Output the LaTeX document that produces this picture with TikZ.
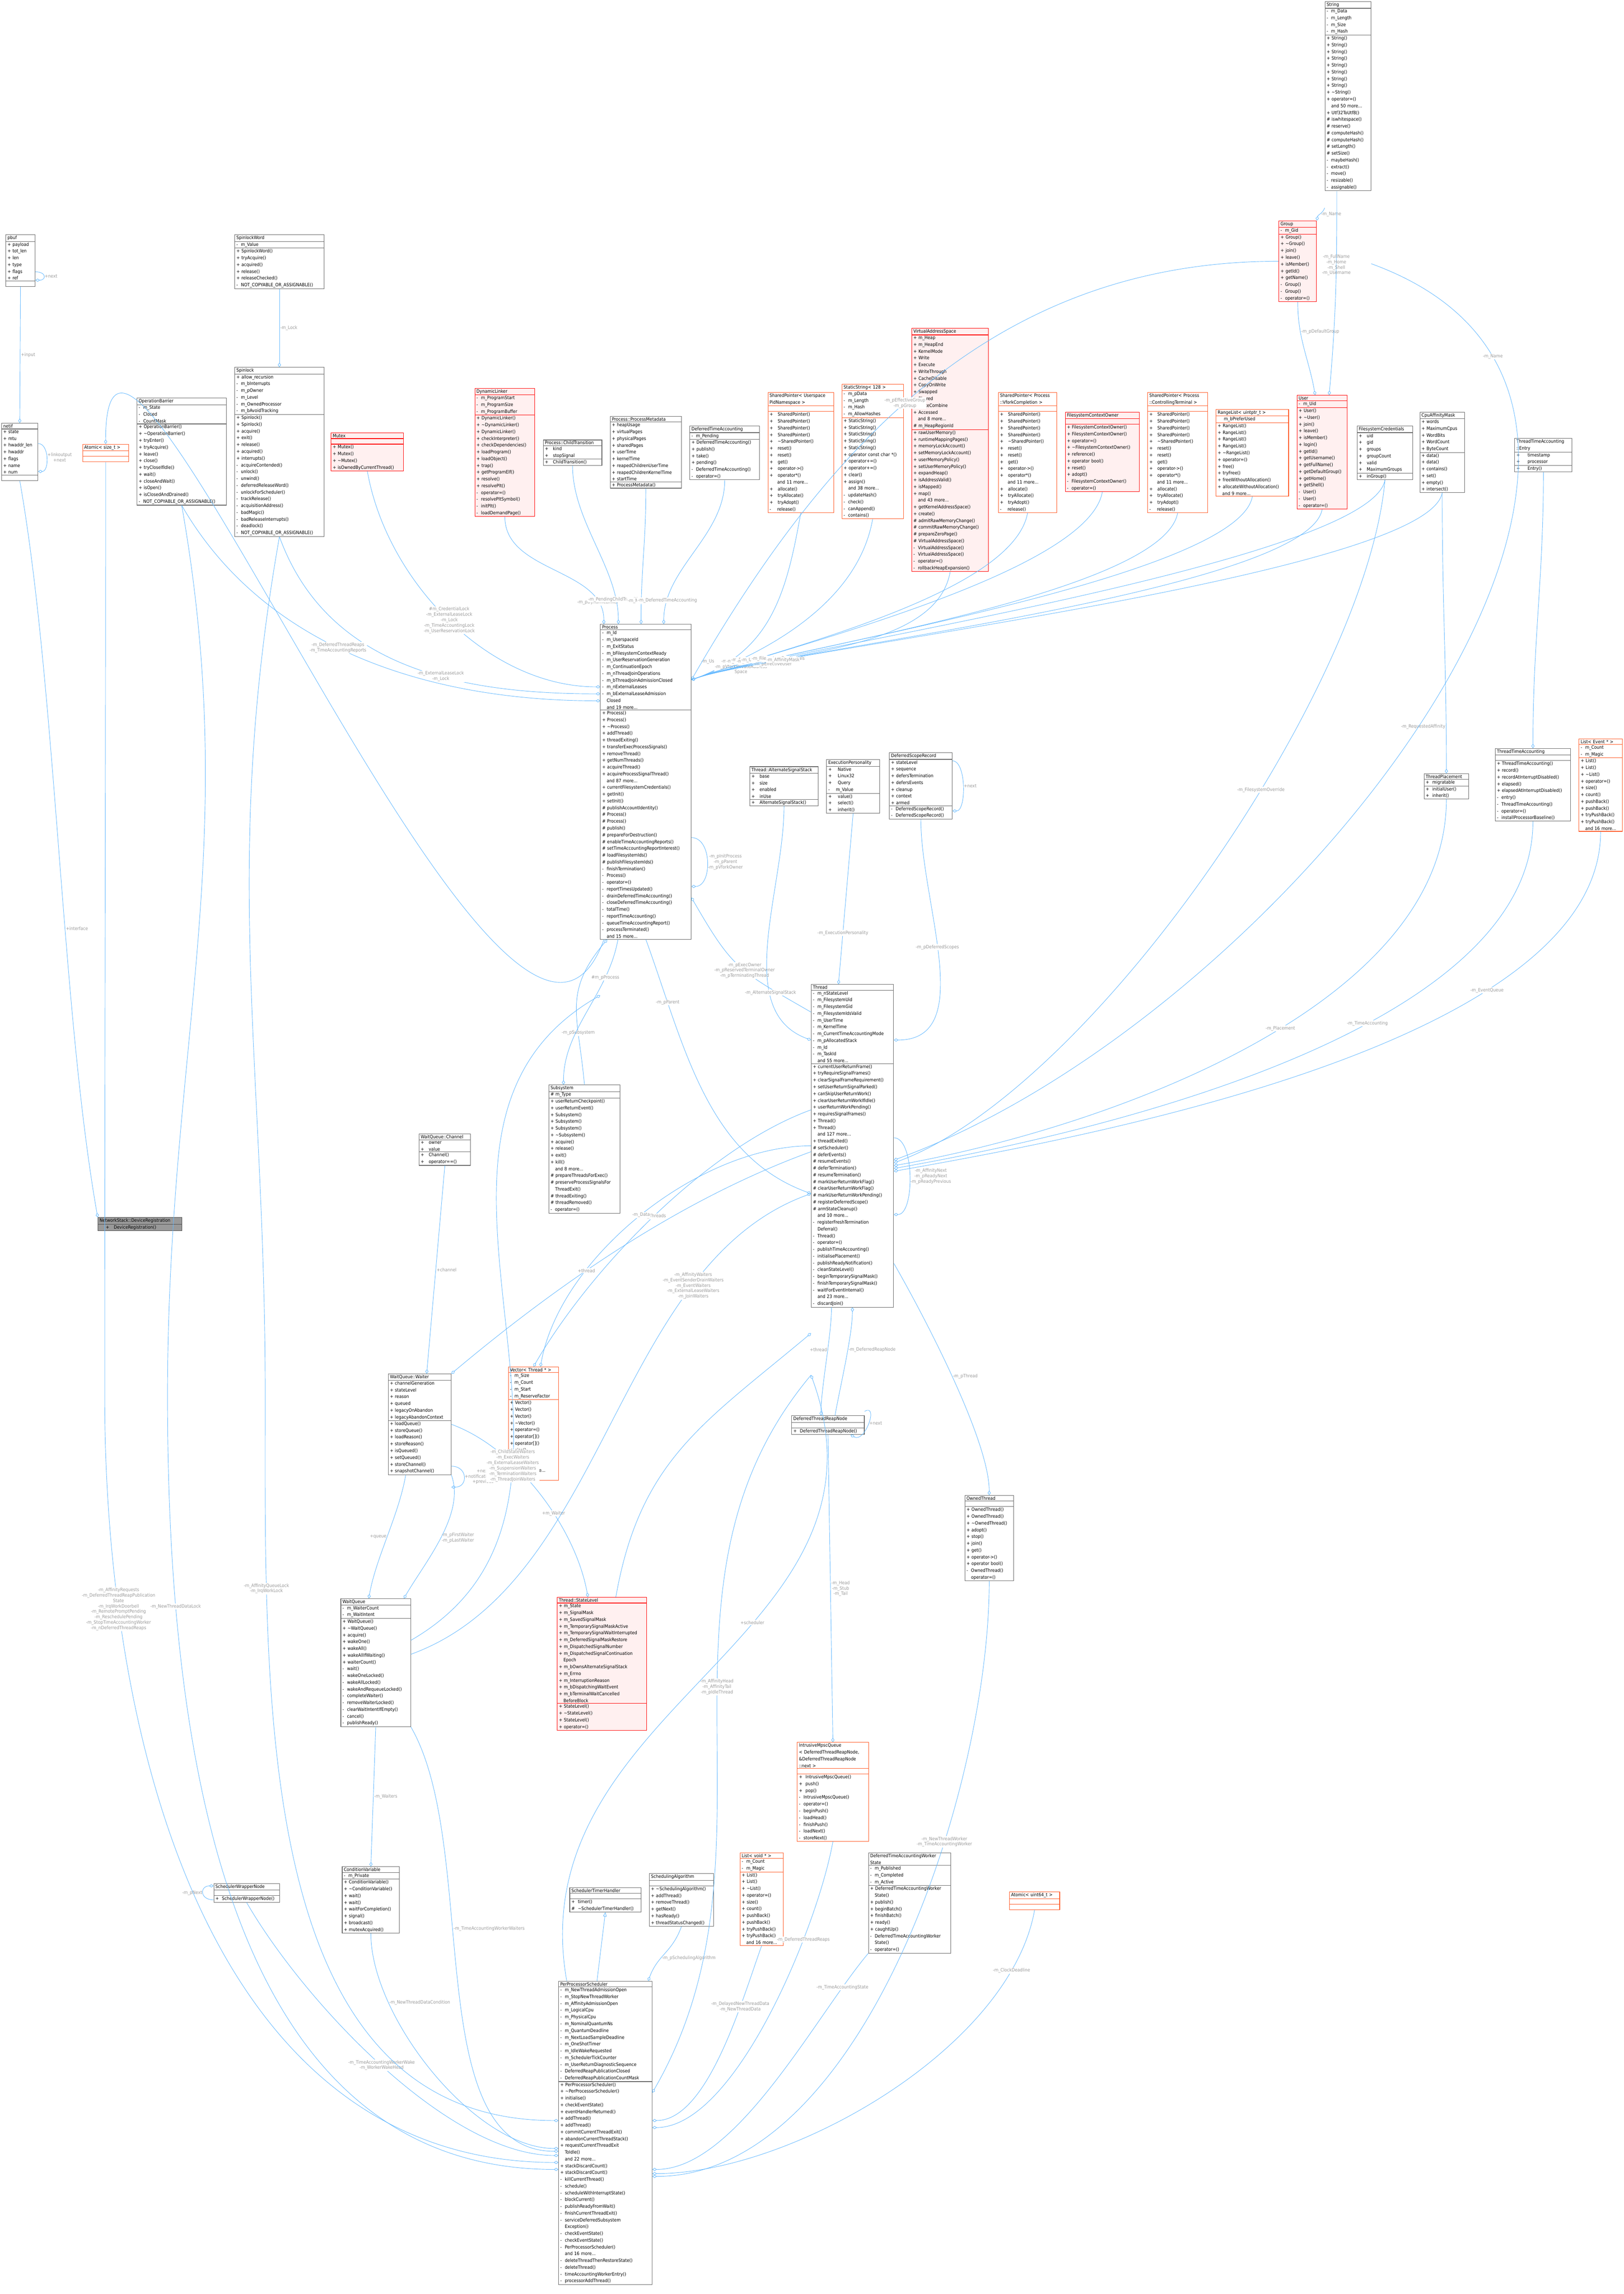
\documentclass[tikz,border=0pt]{standalone}
\usepackage{fontspec}
\setmainfont{DejaVu Sans}
\newfontfamily\cond{DejaVu Sans Condensed}
\usetikzlibrary{shapes.multipart,arrows.meta}
\definecolor{edge}{HTML}{63B8FF}
\definecolor{lblc}{HTML}{9A9A9A}
\definecolor{tmpl}{HTML}{FF5722}
\tikzset{
 cls/.style={rectangle split,rectangle split parts=3,rectangle split part align={center,left,left},
   draw=black!60,fill=white,line width=0.35pt,inner xsep=1.2pt,inner ysep=0.6pt,
   font=\cond\fontsize{3.3}{4.85}\selectfont},
 redc/.style={draw=red,fill=red!6},
 orc/.style={draw=tmpl},
 agg/.style={draw=edge,line width=0.3pt,-{Diamond[open,length=3.2pt,width=2.2pt]}},
 ln/.style={draw=edge,line width=0.3pt},
 inh/.style={draw=edge,line width=0.3pt,-{Triangle[open,length=3pt,width=2.6pt]}},
 lbl/.style={font=\cond\fontsize{3.3}{3.9}\selectfont,text=lblc,align=center,inner sep=0.5pt}
}
\newcommand\ubox[8]{\node[cls,#2,text width=#5pt-2.4pt,anchor=north west] (#1) at (#3,#4) {#6\nodepart{two}#7\nodepart{three}#8};}
\newcommand\E{\phantom{X}}
\begin{document}
\begin{tikzpicture}[x=1pt,y=-1pt]
\useasboundingbox (0,0) rectangle (1163.25,1643.25);
% ---------- top rows
\ubox{pbuf}{}{4}{168}{21}{pbuf}{+ payload\\+ tot\_len\\+ len\\+ type\\+ flags\\+ ref}{\E}
\ubox{netif}{}{1}{303}{26}{netif}{+ state\\+ mtu\\+ hwaddr\_len\\+ hwaddr\\+ flags\\+ name\\+ num}{\E}
\ubox{atsz}{orc}{59}{318}{33}{Atomic< size\_t >}{\E}{\E}
\ubox{opb}{}{98}{285}{64}{OperationBarrier}{-\ \ m\_State\\-\ \ Closed\\-\ \ CountMask}{+ OperationBarrier()\\+ \textasciitilde OperationBarrier()\\+ tryEnter()\\+ tryAcquire()\\+ leave()\\+ close()\\+ tryCloseIfIdle()\\+ wait()\\+ closeAndWait()\\+ isOpen()\\+ isClosedAndDrained()\\- \ NOT\_COPYABLE\_OR\_ASSIGNABLE()}
\ubox{slw}{}{168}{168}{64}{SpinlockWord}{- \ m\_Value}{+ SpinlockWord()\\+ tryAcquire()\\+ acquired()\\+ release()\\+ releaseChecked()\\- \ NOT\_COPYABLE\_OR\_ASSIGNABLE()}
\ubox{sl}{}{168}{263}{64}{Spinlock}{+ allow\_recursion\\- \ m\_bInterrupts\\- \ m\_pOwner\\- \ m\_Level\\- \ m\_OwnedProcessor\\- \ m\_bAvoidTracking}{+ Spinlock()\\+ Spinlock()\\+ acquire()\\+ exit()\\+ release()\\+ acquired()\\+ interrupts()\\- \ acquireContended()\\- \ unlock()\\- \ unwind()\\- \ deferredReleaseWord()\\- \ unlockForScheduler()\\- \ trackRelease()\\- \ acquisitionAddress()\\- \ badMagic()\\- \ badReleaseInterrupts()\\- \ deadlock()\\- \ NOT\_COPYABLE\_OR\_ASSIGNABLE()}
\ubox{mutex}{redc}{237}{310}{52}{Mutex}{\E}{+ Mutex()\\+ Mutex()\\+ \textasciitilde Mutex()\\+ isOwnedByCurrentThread()}
\ubox{dl}{redc}{340}{278}{43}{DynamicLinker}{- \ m\_ProgramStart\\- \ m\_ProgramSize\\- \ m\_ProgramBuffer}{+ DynamicLinker()\\+ \textasciitilde DynamicLinker()\\+ DynamicLinker()\\+ checkInterpreter()\\+ checkDependencies()\\+ loadProgram()\\+ loadObject()\\+ trap()\\+ getProgramElf()\\+ resolve()\\+ resolvePlt()\\- \ operator=()\\- \ resolvePltSymbol()\\- \ initPlt()\\- \ loadDemandPage()}
\ubox{ct}{}{389}{315}{42}{Process::ChildTransition}{+ \ \ kind\\+ \ \ stopSignal}{+ \ \ ChildTransition()}
\ubox{pm}{}{437}{298}{51}{Process::ProcessMetadata}{+ heapUsage\\+ virtualPages\\+ physicalPages\\+ sharedPages\\+ userTime\\+ kernelTime\\+ reapedChildrenUserTime\\+ reapedChildrenKernelTime\\+ startTime}{+ ProcessMetadata()}
\ubox{dta}{}{494}{305}{50}{DeferredTimeAccounting}{- \ m\_Pending}{+ DeferredTimeAccounting()\\+ publish()\\+ take()\\+ pending()\\- \ DeferredTimeAccounting()\\- \ operator=()}
\ubox{spu}{orc}{550}{281}{47}{SharedPointer< Userspace\\PidNamespace >}{\E}{+ \ \ SharedPointer()\\+ \ \ SharedPointer()\\+ \ \ SharedPointer()\\+ \ \ SharedPointer()\\+ \ \ \textasciitilde SharedPointer()\\+ \ \ reset()\\+ \ \ reset()\\+ \ \ get()\\+ \ \ operator->()\\+ \ \ operator*()\\\ \ \ \ \ and 11 more...\\+ \ \ allocate()\\+ \ \ tryAllocate()\\+ \ \ tryAdopt()\\- \ \ \ release()}
\ubox{ss}{orc}{603}{275}{44}{StaticString< 128 >}{- \ m\_pData\\- \ m\_Length\\- \ m\_Hash\\- \ m\_AllowHashes}{+ StaticString()\\+ StaticString()\\+ StaticString()\\+ StaticString()\\+ StaticString()\\+ operator const char *()\\+ operator+=()\\+ operator+=()\\+ clear()\\+ assign()\\\ \ \ and 38 more...\\- \ updateHash()\\- \ check()\\- \ canAppend()\\- \ contains()}
\ubox{vas}{redc}{653}{235}{55}{VirtualAddressSpace}{+ m\_Heap\\+ m\_HeapEnd\\+ KernelMode\\+ Write\\+ Execute\\+ WriteThrough\\+ CacheDisable\\+ CopyOnWrite\\+ Swapped\\+ Shared\\+ WriteCombine\\+ Accessed\\\ \ \ and 8 more...\\\# m\_HeapRegionId}{+ rawUserMemory()\\+ runtimeMappingPages()\\+ memoryLockAccount()\\+ setMemoryLockAccount()\\+ userMemoryPolicy()\\+ setUserMemoryPolicy()\\+ expandHeap()\\+ isAddressValid()\\+ isMapped()\\+ map()\\\ \ \ and 43 more...\\+ getKernelAddressSpace()\\+ create()\\\# admitRawMemoryChange()\\\# commitRawMemoryChange()\\\# prepareZeroPage()\\\# VirtualAddressSpace()\\- \ VirtualAddressSpace()\\- \ VirtualAddressSpace()\\- \ operator=()\\- \ rollbackHeapExpansion()}
\ubox{spv}{orc}{715}{281}{42}{SharedPointer< Process\\::VforkCompletion >}{\E}{+ \ \ SharedPointer()\\+ \ \ SharedPointer()\\+ \ \ SharedPointer()\\+ \ \ SharedPointer()\\+ \ \ \textasciitilde SharedPointer()\\+ \ \ reset()\\+ \ \ reset()\\+ \ \ get()\\+ \ \ operator->()\\+ \ \ operator*()\\\ \ \ \ \ and 11 more...\\+ \ \ allocate()\\+ \ \ tryAllocate()\\+ \ \ tryAdopt()\\- \ \ \ release()}
\ubox{fco}{redc}{763}{295}{53}{FilesystemContextOwner}{\E}{+ FilesystemContextOwner()\\+ FilesystemContextOwner()\\+ operator=()\\+ \textasciitilde FilesystemContextOwner()\\+ reference()\\+ operator bool()\\+ reset()\\+ adopt()\\- \ FilesystemContextOwner()\\- \ operator=()}
\ubox{spc}{orc}{822}{281}{43}{SharedPointer< Process\\::ControllingTerminal >}{\E}{+ \ \ SharedPointer()\\+ \ \ SharedPointer()\\+ \ \ SharedPointer()\\+ \ \ SharedPointer()\\+ \ \ \textasciitilde SharedPointer()\\+ \ \ reset()\\+ \ \ reset()\\+ \ \ get()\\+ \ \ operator->()\\+ \ \ operator*()\\\ \ \ \ \ and 11 more...\\+ \ \ allocate()\\+ \ \ tryAllocate()\\+ \ \ tryAdopt()\\- \ \ \ release()}
\ubox{rl}{orc}{871}{293}{52}{RangeList< uintptr\_t >}{\ \ \ \ m\_bPreferUsed}{+ RangeList()\\+ RangeList()\\+ RangeList()\\+ RangeList()\\+ \textasciitilde RangeList()\\+ operator=()\\+ free()\\+ tryFree()\\+ freeWithoutAllocation()\\+ allocateWithoutAllocation()\\\ \ \ and 9 more...}
\ubox{grp}{redc}{916}{158}{27}{Group}{- \ m\_Gid}{+ Group()\\+ \textasciitilde Group()\\+ join()\\+ leave()\\+ isMember()\\+ getId()\\+ getName()\\- \ Group()\\- \ Group()\\- \ operator=()}
\ubox{user}{redc}{929}{283}{36}{User}{- \ m\_Uid}{+ User()\\+ \textasciitilde User()\\+ join()\\+ leave()\\+ isMember()\\+ login()\\+ getId()\\+ getUsername()\\+ getFullName()\\+ getDefaultGroup()\\+ getHome()\\+ getShell()\\- \ User()\\- \ User()\\- \ operator=()}
\ubox{str}{}{949}{1}{33}{String}{- \ m\_Data\\- \ m\_Length\\- \ m\_Size\\- \ m\_Hash}{+ String()\\+ String()\\+ String()\\+ String()\\+ String()\\+ String()\\+ String()\\+ String()\\+ \textasciitilde String()\\+ operator=()\\\ \ \ and 50 more...\\+ Utf32ToUtf8()\\\# iswhitespace()\\\# reserve()\\\# computeHash()\\\# computeHash()\\\# setLength()\\\# setSize()\\- \ maybeHash()\\- \ extract()\\- \ move()\\- \ resizable()\\- \ assignable()}
\ubox{fsc}{}{972}{305}{40}{FilesystemCredentials}{+ \ \ uid\\+ \ \ gid\\+ \ \ groups\\+ \ \ groupCount\\+ \ \ valid\\+ \ \ MaximumGroups}{+ \ \ inGroup()}
\ubox{cpu}{}{1017}{295}{32}{CpuAffinityMask}{+ words\\+ MaximumCpus\\+ WordBits\\+ WordCount\\+ ByteCount}{+ data()\\+ data()\\+ contains()\\+ set()\\+ empty()\\+ intersect()}
\ubox{tte}{}{1085}{314}{41}{ThreadTimeAccounting\\::Entry}{+ \ \ \ \ timestamp\\+ \ \ \ \ processor}{+ \ \ \ \ Entry()}
% ---------- middle
\ubox{proc}{}{430}{447}{65}{Process}{- \ m\_Id\\- \ m\_UserspaceId\\- \ m\_ExitStatus\\- \ m\_bFilesystemContextReady\\- \ m\_UserReservationGeneration\\- \ m\_ContinuationEpoch\\- \ m\_nThreadJoinOperations\\- \ m\_bThreadJoinAdmissionClosed\\- \ m\_nExternalLeases\\- \ m\_bExternalLeaseAdmission\\\ \ \ Closed\\\ \ \ and 19 more...}{+ Process()\\+ Process()\\+ \textasciitilde Process()\\+ addThread()\\+ threadExiting()\\+ transferExecProcessSignals()\\+ removeThread()\\+ getNumThreads()\\+ acquireThread()\\+ acquireProcessSignalThread()\\\ \ \ and 87 more...\\+ currentFilesystemCredentials()\\+ getInit()\\+ setInit()\\\# publishAccountIdentity()\\\# Process()\\\# Process()\\\# publish()\\\# prepareForDestruction()\\\# enableTimeAccountingReports()\\\# setTimeAccountingReportInterest()\\\# loadFilesystemIds()\\\# publishFilesystemIds()\\- \ finishTermination()\\- \ Process()\\- \ operator=()\\- \ reportTimesUpdated()\\- \ drainDeferredTimeAccounting()\\- \ closeDeferredTimeAccounting()\\- \ totalTime()\\- \ reportTimeAccounting()\\- \ queueTimeAccountingReport()\\- \ processTerminated()\\\ \ \ and 15 more...}
\ubox{alt}{}{537}{549}{49}{Thread::AlternateSignalStack}{+ \ \ base\\+ \ \ size\\+ \ \ enabled\\+ \ \ inUse}{+ \ \ AlternateSignalStack()}
\ubox{exec}{}{592}{544}{38}{ExecutionPersonality}{+ \ \ \ Native\\+ \ \ \ Linux32\\+ \ \ \ Query\\- \ \ \ m\_Value}{+ \ \ \ value()\\+ \ \ \ select()\\+ \ \ \ inherit()}
\ubox{dsr}{}{637}{539}{45}{DeferredScopeRecord}{+ stateLevel\\+ sequence\\+ defersTermination\\+ defersEvents\\+ cleanup\\+ context\\+ armed}{- \ DeferredScopeRecord()\\- \ DeferredScopeRecord()}
\ubox{tp}{}{1020}{554}{32}{ThreadPlacement}{+ \ migratable}{+ \ initialUser()\\+ \ inherit()}
\ubox{tta}{}{1071}{536}{54}{ThreadTimeAccounting}{\E}{+ ThreadTimeAccounting()\\+ record()\\+ recordAtInterruptDisabled()\\+ elapsed()\\+ elapsedAtInterruptDisabled()\\- \ entry()\\- \ ThreadTimeAccounting()\\- \ operator=()\\- \ installProcessorBaseline()}
\ubox{lev}{orc}{1131}{529}{31}{List< Event * >}{- \ m\_Count\\- \ m\_Magic}{+ List()\\+ List()\\+ \textasciitilde List()\\+ operator=()\\+ size()\\+ count()\\+ pushBack()\\+ pushBack()\\+ tryPushBack()\\+ tryPushBack()\\\ \ \ and 16 more...}
\ubox{thr}{}{581}{705}{59}{Thread}{- \ m\_nStateLevel\\- \ m\_FilesystemUid\\- \ m\_FilesystemGid\\- \ m\_FilesystemIdsValid\\- \ m\_UserTime\\- \ m\_KernelTime\\- \ m\_CurrentTimeAccountingMode\\- \ m\_pAllocatedStack\\- \ m\_Id\\- \ m\_TaskId\\\ \ \ and 55 more...}{+ currentUserReturnFrame()\\+ tryRequireSignalFrames()\\+ clearSignalFrameRequirement()\\+ setUserReturnSignalParked()\\+ canSkipUserReturnWork()\\+ clearUserReturnWorkIfIdle()\\+ userReturnWorkPending()\\+ requiresSignalFrames()\\+ Thread()\\+ Thread()\\\ \ \ and 127 more...\\+ threadExited()\\\# setScheduler()\\\# deferEvents()\\\# resumeEvents()\\\# deferTermination()\\\# resumeTermination()\\\# markUserReturnWorkFlag()\\\# clearUserReturnWorkFlag()\\\# markUserReturnWorkPending()\\\# registerDeferredScope()\\\# armStateCleanup()\\\ \ \ and 10 more...\\- \ registerFreshTermination\\\ \ \ Deferral()\\- \ Thread()\\- \ operator=()\\- \ publishTimeAccounting()\\- \ initialisePlacement()\\- \ publishReadyNotification()\\- \ cleanStateLevel()\\- \ beginTemporarySignalMask()\\- \ finishTemporarySignalMask()\\- \ waitForEventInternal()\\\ \ \ and 23 more...\\- \ discardJoin()}
\ubox{sub}{}{393}{777}{51}{Subsystem}{\# m\_Type}{+ userReturnCheckpoint()\\+ userReturnEvent()\\+ Subsystem()\\+ Subsystem()\\+ Subsystem()\\+ \textasciitilde Subsystem()\\+ acquire()\\+ release()\\+ exit()\\+ kill()\\\ \ \ and 8 more...\\\# prepareThreadsForExec()\\\# preserveProcessSignalsFor\\\ \ \ ThreadExit()\\\# threadExiting()\\\# threadRemoved()\\- \ operator=()}
\ubox{chan}{}{300}{812}{37}{WaitQueue::Channel}{+ \ \ owner\\+ \ \ value}{+ \ \ Channel()\\+ \ \ operator==()}
\node[rectangle split,rectangle split parts=2,draw=black!70,line width=0.35pt,inner xsep=1.2pt,inner ysep=0.6pt,font=\cond\fontsize{3.3}{4.85}\selectfont,rectangle split part fill={black!40,black!40},text width=57.6pt,rectangle split part align={center,left},anchor=north west] (dev) at (70,872) {NetworkStack::DeviceRegistration\nodepart{two}\ \ \ \ +\ \ \ DeviceRegistration()};
% ---------- lower
\ubox{wtr}{}{278}{984}{45}{WaitQueue::Waiter}{+ channelGeneration\\+ stateLevel\\+ reason\\+ queued\\+ legacyOnAbandon\\+ legacyAbandonContext}{+ loadQueue()\\+ storeQueue()\\+ loadReason()\\+ storeReason()\\+ isQueued()\\+ setQueued()\\+ storeChannel()\\+ snapshotChannel()}
\ubox{vec}{orc}{364}{979}{36}{Vector< Thread * >}{- \ m\_Size\\- \ m\_Count\\- \ m\_Start\\- \ m\_ReserveFactor}{+ Vector()\\+ Vector()\\+ Vector()\\+ \textasciitilde Vector()\\+ operator=()\\+ operator[]()\\+ operator[]()\\+ size()\\+ count()\\+ pushBack()\\\ \ \ and 25 more...\\- \ reserve()}
\ubox{dtrn}{}{567}{1014}{52}{DeferredThreadReapNode}{\E}{+ \ DeferredThreadReapNode()}
\ubox{own}{}{691}{1071}{35}{OwnedThread}{\E}{+ OwnedThread()\\+ OwnedThread()\\+ \textasciitilde OwnedThread()\\+ adopt()\\+ stop()\\+ join()\\+ get()\\+ operator->()\\+ operator bool()\\- \ OwnedThread()\\\ \ \ operator=()}
\ubox{wq}{}{244}{1145}{50}{WaitQueue}{- \ m\_WaiterCount\\- \ m\_WaitIntent}{+ WaitQueue()\\+ \textasciitilde WaitQueue()\\+ acquire()\\+ wakeOne()\\+ wakeAll()\\+ wakeAllIfWaiting()\\+ waiterCount()\\- \ wait()\\- \ wakeOneLocked()\\- \ wakeAllLocked()\\- \ wakeAndRequeueLocked()\\- \ completeWaiter()\\- \ removeWaiterLocked()\\- \ clearWaitIntentIfEmpty()\\- \ cancel()\\- \ publishReady()}
\ubox{stl}{redc}{399}{1144}{64}{Thread::StateLevel}{+ m\_State\\+ m\_SignalMask\\+ m\_SavedSignalMask\\+ m\_TemporarySignalMaskActive\\+ m\_TemporarySignalWaitInterrupted\\+ m\_DeferredSignalMaskRestore\\+ m\_DispatchedSignalNumber\\+ m\_DispatchedSignalContinuation\\\ \ \ Epoch\\+ m\_bOwnsAlternateSignalStack\\+ m\_Errno\\+ m\_InterruptionReason\\+ m\_bDispatchingWaitEvent\\+ m\_bTerminalWaitCancelled\\\ \ \ BeforeBlock}{+ StateLevel()\\+ \textasciitilde StateLevel()\\+ StateLevel()\\+ operator=()}
\ubox{imq}{orc}{571}{1248}{51}{IntrusiveMpscQueue\\< DeferredThreadReapNode,\\\&DeferredThreadReapNode\\::next >}{\E}{+ \ IntrusiveMpscQueue()\\+ \ push()\\+ \ pop()\\- \ IntrusiveMpscQueue()\\- \ operator=()\\- \ beginPush()\\- \ loadHead()\\- \ finishPush()\\- \ loadNext()\\- \ storeNext()}
\ubox{cv}{}{245}{1337}{41}{ConditionVariable}{- \ m\_Private}{+ ConditionVariable()\\+ \textasciitilde ConditionVariable()\\+ wait()\\+ wait()\\+ waitForCompletion()\\+ signal()\\+ broadcast()\\+ mutexAcquired()}
\ubox{swn}{}{153}{1349}{47}{SchedulerWrapperNode}{\E}{+ \ SchedulerWrapperNode()}
\ubox{sth}{}{408}{1352}{51}{SchedulerTimerHandler}{\E}{+ \ timer()\\\# \ \textasciitilde SchedulerTimerHandler()}
\ubox{sal}{}{465}{1342}{46}{SchedulingAlgorithm}{\E}{+ \textasciitilde SchedulingAlgorithm()\\+ addThread()\\+ removeThread()\\+ getNext()\\+ hasReady()\\+ threadStatusChanged()}
\ubox{lvd}{orc}{530}{1327}{31}{List< void * >}{- \ m\_Count\\- \ m\_Magic}{+ List()\\+ List()\\+ \textasciitilde List()\\+ operator=()\\+ size()\\+ count()\\+ pushBack()\\+ pushBack()\\+ tryPushBack()\\+ tryPushBack()\\\ \ \ and 16 more...}
\ubox{dtaw}{}{622}{1327}{59}{DeferredTimeAccountingWorker\\State}{- \ m\_Published\\- \ m\_Completed\\- \ m\_Active}{+ DeferredTimeAccountingWorker\\\ \ \ State()\\+ publish()\\+ beginBatch()\\+ finishBatch()\\+ ready()\\+ caughtUp()\\- \ DeferredTimeAccountingWorker\\\ \ \ State()\\- \ operator=()}
\ubox{a64}{orc}{723}{1355}{36}{Atomic< uint64\_t >}{\E}{\E}
\ubox{pps}{}{400}{1419}{67}{PerProcessorScheduler}{- \ m\_NewThreadAdmissionOpen\\- \ m\_StopNewThreadWorker\\- \ m\_AffinityAdmissionOpen\\- \ m\_LogicalCpu\\- \ m\_PhysicalCpu\\- \ m\_NominalQuantumNs\\- \ m\_QuantumDeadline\\- \ m\_NextLoadSampleDeadline\\- \ m\_OneShotTimer\\- \ m\_IdleWakeRequested\\- \ m\_SchedulerTickCounter\\- \ m\_UserReturnDiagnosticSequence\\- \ DeferredReapPublicationClosed\\- \ DeferredReapPublicationCountMask}{+ PerProcessorScheduler()\\+ \textasciitilde PerProcessorScheduler()\\+ initialise()\\+ checkEventState()\\+ eventHandlerReturned()\\+ addThread()\\+ addThread()\\+ commitCurrentThreadExit()\\+ abandonCurrentThreadStack()\\+ requestCurrentThreadExit\\\ \ \ ToIdle()\\\ \ \ and 22 more...\\+ stackDiscardCount()\\+ stackDiscardCount()\\- \ killCurrentThread()\\- \ schedule()\\- \ scheduleWithInterruptState()\\- \ blockCurrent()\\- \ publishReadyFromWait()\\- \ finishCurrentThreadExit()\\- \ serviceDeferredSubsystem\\\ \ \ Exception()\\- \ checkEventState()\\- \ checkEventState()\\- \ PerProcessorScheduler()\\\ \ \ and 16 more...\\- \ deleteThreadThenRestoreState()\\- \ deleteThread()\\- \ timeAccountingWorkerEntry()\\- \ processorAddThread()}
% ---------- connectors
\draw[agg] ([yshift=-8pt]pbuf.east) to[out=0,in=0,distance=8pt] node[lbl,right]{+next} ([yshift=-14pt]pbuf.east);
\draw[agg] (pbuf.south) -- node[lbl,right]{+input} (netif.north);
\draw[agg] ([yshift=6pt]netif.east) to[out=0,in=0,distance=8pt] node[lbl,right]{+linkoutput\\+next} ([yshift=-14pt]netif.east);
\draw[agg] (netif.south) to[out=-80,in=100,distance=150pt] node[lbl,pos=0.6,right]{+interface} (dev.north west);
\draw[agg] (slw.south) -- node[lbl,right]{-m\_Lock} (sl.north);
\draw[agg] (grp.south) to[out=-90,in=100] node[lbl,right,pos=0.3]{-m\_pDefaultGroup} ([xshift=-5pt]user.north);
\draw[agg] ([yshift=-80pt]str.west) to[out=-110,in=80] node[lbl,right,pos=0.5]{-m\_Name} (grp.north east);
\draw[agg] ([xshift=-8pt]str.south) to[out=-90,in=85] node[lbl,pos=0.35]{-m\_FullName\\-m\_Home\\-m\_Shell\\-m\_Username} ([xshift=5pt]user.north);
\draw[agg] (tte.south) to[out=-90,in=90] (tta.north);
\draw[agg] (cpu.south) to[out=-90,in=90,distance=80pt] node[lbl,pos=0.85,left]{-m\_RequestedAffinity} (tp.north);
% into Process
\foreach \s/\l/\p in {dl/-m\_pDynamicLinker/0.04, ct/-m\_PendingChildTransition/0.2, pm/-m\_Metadata/0.45, dta/-m\_DeferredTimeAccounting/0.7}
  \draw[agg] (\s.south) to[out=-90,in=90,distance=40pt] node[lbl,pos=0.85,fill=white]{\l} ([xshift=\p*65pt]proc.north west);
\foreach \s/\l in {spu/-m\_UserspaceNamespace, ss/-str, vas/-m\_pAddressSpace\\-m\_pVforkPrivateAddress\\Space, spv/-m\_VforkCompletion, fco/-m\_FilesystemContext, spc/-m\_ControllingTerminal, rl/-m\_UserspaceIdAllocator, user/-m\_pUser\\-m\_pEffectiveUser, fsc/-m\_FilesystemCredentials, cpu/-m\_AffinityMask}
  \draw[agg] (\s.south) to[out=-100,in=20,distance=60pt] node[lbl,pos=0.82,fill=white]{\l} ([yshift=-40pt]proc.north east);
\draw[agg] (grp.west) to[out=180,in=60,distance=200pt] node[lbl,pos=0.55,fill=white]{-m\_pEffectiveGroup\\-m\_pGroup} ([yshift=-40pt]proc.north east);
\draw[agg] (sl.south) to[out=-70,in=180,distance=100pt] node[lbl,pos=0.6,fill=white]{-m\_ExternalLeaseLock\\-m\_Lock} ([yshift=-50pt]proc.north west);
\draw[agg] (mutex.south) to[out=-80,in=180,distance=80pt] node[lbl,pos=0.5,fill=white]{\#m\_CredentialLock\\-m\_ExternalLeaseLock\\-m\_Lock\\-m\_TimeAccountingLock\\-m\_UserReservationLock} ([yshift=-45pt]proc.north west);
\draw[agg] (opb.south) to[out=-60,in=180,distance=120pt] node[lbl,pos=0.45,fill=white]{-m\_DeferredThreadReaps\\-m\_TimeAccountingReports} ([yshift=-55pt]proc.north west);
\draw[agg] ([yshift=-40pt]proc.east) to[out=0,in=0,distance=15pt] node[lbl,right]{-m\_pInitProcess\\-m\_pParent\\-m\_pVforkOwner} ([yshift=-75pt]proc.east);
\draw[agg] (sub.north) to[out=95,in=-130,distance=50pt] node[lbl,pos=0.3,fill=white]{-m\_pSubsystem} ([xshift=5pt]proc.south west);
\draw[agg] ([xshift=-20pt]proc.south) to[out=-100,in=90,distance=40pt] node[lbl,pos=0.25,fill=white]{\#m\_pProcess} ([xshift=-15pt]sub.north);
\draw[agg] (proc.south) to[out=-70,in=160,distance=80pt] node[lbl,pos=0.2,fill=white]{-m\_pParent} ([yshift=-150pt]thr.north west);
\draw[agg] ([yshift=-20pt]thr.north west) to[out=150,in=-60,distance=60pt] node[lbl,pos=0.45,fill=white]{-m\_pExecOwner\\-m\_pReservedTerminalOwner\\-m\_pTerminatingThread} ([yshift=30pt]proc.south east);
% into Thread
\draw[agg] (alt.south) to[out=-90,in=160,distance=60pt] node[lbl,pos=0.7,fill=white]{-m\_AlternateSignalStack} ([yshift=-40pt]thr.north west);
\draw[agg] (exec.south) -- node[lbl,pos=0.7,fill=white]{-m\_ExecutionPersonality} ([xshift=-10pt]thr.north);
\draw[agg] (dsr.south) to[out=-90,in=0,distance=60pt] node[lbl,pos=0.45,fill=white]{-m\_pDeferredScopes} ([yshift=-40pt]thr.north east);
\draw[agg] ([yshift=-6pt]dsr.north east) to[out=0,in=0,distance=10pt] node[lbl,right]{+next} ([yshift=6pt]dsr.south east);
\draw[agg] (tp.south) to[out=-90,in=10,distance=150pt] node[lbl,pos=0.45,fill=white]{-m\_Placement} ([yshift=-130pt]thr.north east);
\draw[agg] (tta.south) to[out=-90,in=10,distance=150pt] node[lbl,pos=0.4,fill=white]{-m\_TimeAccounting} ([yshift=-132pt]thr.north east);
\draw[agg] (lev.south) to[out=-90,in=10,distance=150pt] node[lbl,pos=0.3,fill=white]{-m\_EventQueue} ([yshift=-134pt]thr.north east);
\draw[agg] (fsc.south) to[out=-95,in=20,distance=150pt] node[lbl,pos=0.4,fill=white]{-m\_FilesystemOverride} ([yshift=-128pt]thr.north east);
\draw[agg] ([yshift=-120pt]str.east) to[out=-20,in=20,distance=300pt] node[lbl,pos=0.15,fill=white]{-m\_Name} ([yshift=-126pt]thr.north east);
\draw[agg] ([yshift=-110pt]thr.north east) to[out=0,in=0,distance=15pt] node[lbl,right]{-m\_AffinityNext\\-m\_pReadyNext\\-m\_pReadyPrevious} ([yshift=-165pt]thr.north east);
\draw[agg] ([xshift=-15pt]thr.south) to[out=-90,in=90,distance=20pt] node[lbl,pos=0.4,left]{+thread} ([xshift=-5pt]dtrn.north);
\draw[agg] ([xshift=5pt]dtrn.north) to[out=80,in=-90,distance=20pt] node[lbl,pos=0.6,right]{-m\_DeferredReapNode} (thr.south);
\draw[agg] ([yshift=3pt]dtrn.north east) to[out=30,in=-30,distance=12pt] node[lbl,right]{+next} ([xshift=-10pt]dtrn.south east);
\draw[agg] (dtrn.south) -- node[lbl,right]{-m\_Head\\-m\_Stub\\-m\_Tail} (imq.north);
\draw[agg] ([yshift=-200pt]thr.north east) to[out=-60,in=90,distance=40pt] node[lbl,pos=0.5,right]{-m\_pThread} (own.north);
\draw[agg] ([yshift=-90pt]thr.north west) to[out=-160,in=60,distance=80pt] node[lbl,pos=0.5,fill=white]{-m\_Threads} (vec.north);
\draw[agg] (thr.west) to[out=180,in=80,distance=80pt] node[lbl,pos=0.5,fill=white]{-m\_Data} ([xshift=5pt]vec.north);
\draw[agg] ([yshift=-120pt]thr.north west) to[out=200,in=40,distance=100pt] node[lbl,pos=0.6,fill=white]{+thread} (wtr.north east);
\draw[agg] (chan.south) -- node[lbl,right]{+channel} ([xshift=5pt]wtr.north);
\draw[agg] ([yshift=-30pt]wtr.east) to[out=0,in=0,distance=12pt] node[lbl,right]{+next\\+notificationNext\\+previous} ([yshift=-45pt]wtr.east);
\draw[agg] ([xshift=-10pt]wtr.south) to[out=-100,in=80,distance=30pt] node[lbl,pos=0.5,left]{+queue} ([xshift=-5pt]wq.north);
\draw[agg] (wtr.south east) to[out=-70,in=60,distance=30pt] node[lbl,pos=0.5,right]{-m\_pFirstWaiter\\-m\_pLastWaiter} ([xshift=-5pt]wq.north east);
\draw[agg] (wtr.east) to[out=-20,in=100,distance=50pt] node[lbl,pos=0.6,fill=white]{+m\_Waiter} ([xshift=-10pt]stl.north);
\draw[agg] ([xshift=10pt]stl.north) to[out=80,in=-140,distance=100pt] ([yshift=-250pt]thr.north west);
\draw[agg] ([yshift=-30pt]wq.north east) to[out=30,in=-150,distance=200pt] node[lbl,pos=0.3,fill=white]{-m\_ChildStateWaiters\\-m\_ExecWaiters\\-m\_ExternalLeaseWaiters\\-m\_SuspensionWaiters\\-m\_TerminationWaiters\\-m\_ThreadJoinWaiters} ([yshift=-40pt]proc.south west);
\draw[agg] ([yshift=-40pt]wq.north east) to[out=20,in=-160,distance=150pt] node[lbl,pos=0.75,fill=white]{-m\_AffinityWaiters\\-m\_EventSenderDrainWaiters\\-m\_EventWaiters\\-m\_ExternalLeaseWaiters\\-m\_JoinWaiters} ([yshift=-150pt]thr.north west);
\draw[agg] (wq.south) -- node[lbl,right]{-m\_Waiters} (cv.north);
\draw[agg] ([yshift=-5pt]swn.west) to[out=180,in=180,distance=10pt] node[lbl,left]{-m\_pNext} ([yshift=5pt]swn.west);
% into PPS
\draw[inh] ([xshift=-6pt]pps.north) -- (sth.south);
\draw[agg] (sal.south) to[out=-110,in=70,distance=20pt] node[lbl,pos=0.6,right]{-m\_pSchedulingAlgorithm} ([xshift=-3pt]pps.north east);
\draw[agg] (cv.south) to[out=-90,in=180,distance=60pt] node[lbl,pos=0.25,right]{-m\_NewThreadDataCondition} ([yshift=-120pt]pps.north west);
\draw[agg] (wq.south east) to[out=-60,in=180,distance=100pt] node[lbl,pos=0.4,right]{-m\_TimeAccountingWorkerWaiters} ([yshift=-122pt]pps.north west);
\draw[agg] (swn.south) to[out=-60,in=180,distance=80pt] node[lbl,pos=0.5,fill=white]{-m\_TimeAccountingWorkerWake\\-m\_WorkerWakeHead} ([yshift=-125pt]pps.north west);
\coordinate (j1) at (190,1000);
\coordinate (j2) at (75,1000);
\coordinate (j3) at (120,1000);
\draw[ln] (sl.south) to[out=-100,in=90] (j1);
\draw[agg] (j1) to[out=-90,in=180] node[lbl,pos=0.2,fill=white]{-m\_AffinityQueueLock\\-m\_IrqWorkLock} ([yshift=-100pt]pps.north west);
\draw[ln] (atsz.south) to[out=-90,in=90] (j2);
\draw[agg] (j2) to[out=-90,in=180] node[lbl,pos=0.2,fill=white]{-m\_AffinityRequests\\-m\_DeferredThreadReapPublication\\State\\-m\_IrqWorkDoorbell\\-m\_RemotePromptPending\\-m\_ReschedulePending\\-m\_StopTimeAccountingWorker\\-m\_nDeferredThreadReaps} ([yshift=-130pt]pps.north west);
\draw[ln] (opb.south) to[out=-80,in=90] (j3);
\draw[agg] (j3) to[out=-90,in=180] node[lbl,pos=0.2,fill=white]{-m\_NewThreadDataLock} ([yshift=-135pt]pps.north west);
\draw[agg] ([yshift=-280pt]thr.north west) to[out=-130,in=60,distance=200pt] node[lbl,pos=0.45,fill=white]{-m\_AffinityHead\\-m\_AffinityTail\\-m\_pIdleThread} ([yshift=-80pt]pps.north east);
\draw[agg] ([xshift=6pt]pps.north west) to[out=100,in=-70,distance=200pt] node[lbl,pos=0.6,fill=white]{+scheduler} ([yshift=-280pt]thr.north west);
\draw[agg] (lvd.south) to[out=-110,in=0,distance=40pt] node[lbl,pos=0.3,fill=white]{-m\_DelayedNewThreadData\\-m\_NewThreadData} ([yshift=-100pt]pps.north east);
\draw[agg] (imq.south) to[out=-100,in=0,distance=60pt] node[lbl,pos=0.3,fill=white]{-m\_DeferredThreadReaps} ([yshift=-105pt]pps.north east);
\draw[agg] (dtaw.south west) to[out=-130,in=0,distance=60pt] node[lbl,pos=0.15,fill=white]{-m\_TimeAccountingState} ([yshift=-135pt]pps.north east);
\draw[agg] (a64.south) to[out=-100,in=0,distance=100pt] node[lbl,pos=0.15,fill=white]{-m\_ClockDeadline} ([yshift=-138pt]pps.north east);
\draw[agg] (own.south) to[out=-90,in=0,distance=150pt] node[lbl,pos=0.35,fill=white]{-m\_NewThreadWorker\\-m\_TimeAccountingWorker} ([yshift=-140pt]pps.north east);
\draw[agg] ([xshift=-30pt]proc.south) to[out=-110,in=90,distance=200pt] (atsz.north);
\end{tikzpicture}
\end{document}
